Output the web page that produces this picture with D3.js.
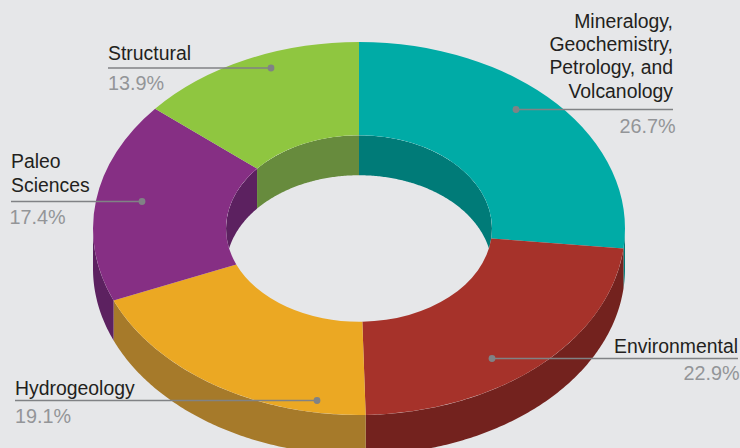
<!DOCTYPE html>
<html>
<head>
<meta charset="utf-8">
<script src="https://cdn.jsdelivr.net/npm/d3@7"></script>
<style>
  html, body { margin: 0; padding: 0; background: #e6e7e9; }
  svg { display: block; font-family: "Liberation Sans", Arial, sans-serif; }
</style>
</head>
<body>
<svg id="chart" width="740" height="448"></svg>
<script>
// Research fields and their share of the total, clockwise from twelve o'clock
const categories = ["Mineralogy, Geochemistry, Petrology, and Volcanology", "Environmental", "Hydrogeology", "Paleo Sciences", "Structural"];
const shares = [26.7, 22.9, 19.1, 17.4, 13.9];
const topColors = ["#00aba6", "#a6322a", "#eba823", "#862f84", "#8fc640"];
const wallColors = ["#007b78", "#73221e", "#a67a2a", "#5c2160", "#678b3d"];
const labelLines = [
  ["Mineralogy,", "Geochemistry,", "Petrology, and", "Volcanology"],
  ["Environmental"],
  ["Hydrogeology"],
  ["Paleo", "Sciences"],
  ["Structural"]
];

// Callout placement: dot, text edge, rule height and text baselines
const callouts = [
  { dot: 516, edge: 673, rule: 109.5, first: 27.5, step: 23.4, pct: 133, anchor: "end", pctEdge: 675.5 },
  { dot: 492, edge: 738, rule: 358.5, first: 353, step: 0, pct: 380, anchor: "end", pctEdge: 739.5 },
  { dot: 317, edge: 15, rule: 400.5, first: 395, step: 0, pct: 423, anchor: "start", pctEdge: 15 },
  { dot: 142, edge: 11, rule: 201.5, first: 168, step: 23.6, pct: 224, anchor: "start", pctEdge: 9.5 },
  { dot: 271, edge: 108, rule: 68, first: 60, step: 0, pct: 90, anchor: "start", pctEdge: 108 }
];

const width = 740, height = 448;
const cx = 359, cy = 228.5;
const outerRx = 266, innerRx = 133;
const tilt = 186.5 / 266;
const depth = 40;

// Unit circle coordinates projected on to the tilted disc
const px = d3.scaleLinear().domain([-1, 1]).range([cx - 1, cx + 1]);
const py = d3.scaleLinear().domain([-1, 1]).range([cy - tilt, cy + tilt]);
const ellipsePoint = (angle, r, drop) => [
  px(r * Math.sin(angle)),
  py(-r * Math.cos(angle)) + drop
];

const svg = d3.select("#chart");
svg.append("rect").attr("width", width).attr("height", height).attr("fill", "#e6e7e9");

const slices = d3.pie().sort(null).value(d => d)(shares);
const line = d3.line();

// A curved band of the disc's side between two angles
function bandPath(a0, a1, r) {
  const n = Math.max(2, Math.ceil((a1 - a0) * 90));
  const angles = d3.range(n + 1).map(i => a0 + (a1 - a0) * i / n);
  const upper = angles.map(a => ellipsePoint(a, r, 0));
  const lower = angles.slice().reverse().map(a => ellipsePoint(a, r, depth));
  return line(upper.concat(lower)) + "Z";
}

// The hole's opening limits what can be seen of the far inner wall
const defs = svg.append("defs");
defs.append("clipPath").attr("id", "hole")
  .append("ellipse")
  .attr("cx", cx).attr("cy", cy).attr("rx", innerRx).attr("ry", innerRx * tilt);

const TAU = Math.PI * 2;

// Outer side: the front half, from 90 to 270 degrees
const outerWalls = svg.append("g");
slices.forEach((s, i) => {
  const a0 = Math.max(s.startAngle, Math.PI / 2);
  const a1 = Math.min(s.endAngle, Math.PI * 1.5);
  if (a1 > a0) {
    outerWalls.append("path").attr("d", bandPath(a0, a1, outerRx)).attr("fill", wallColors[i]);
  }
});

// Inner side: the far half of the hole, from 270 degrees round through the top to 90
const innerWalls = svg.append("g").attr("clip-path", "url(#hole)");
slices.forEach((s, i) => {
  [[Math.PI * 1.5, TAU], [0, Math.PI / 2]].forEach(([lo, hi]) => {
    const a0 = Math.max(s.startAngle, lo);
    const a1 = Math.min(s.endAngle, hi);
    if (a1 > a0) {
      innerWalls.append("path").attr("d", bandPath(a0, a1, innerRx)).attr("fill", wallColors[i]);
    }
  });
});

// Top faces of the ring
const arc = d3.arc().innerRadius(innerRx).outerRadius(outerRx);
svg.append("g")
  .attr("transform", `translate(${cx},${cy}) scale(1,${tilt})`)
  .selectAll("path")
  .data(slices)
  .join("path")
  .attr("d", arc)
  .attr("fill", (d, i) => topColors[i]);

// Callouts: rule with end dot, category text above, share below
const labels = svg.append("g").selectAll("g").data(callouts).join("g");
labels.append("line")
  .attr("x1", d => d.dot).attr("x2", d => d.edge)
  .attr("y1", d => d.rule).attr("y2", d => d.rule)
  .attr("stroke", "#808285").attr("stroke-width", 1.4);
labels.append("circle")
  .attr("cx", d => d.dot).attr("cy", d => d.rule).attr("r", 3.4)
  .attr("fill", "#808285");
labels.each(function (d, i) {
  const g = d3.select(this);
  labelLines[i].forEach((text, j) => {
    g.append("text")
      .attr("x", d.edge)
      .attr("y", d.first + j * d.step)
      .attr("text-anchor", d.anchor)
      .attr("font-size", 19.4)
      .attr("fill", "#231f20")
      .text(text);
  });
  g.append("text")
    .attr("x", d.pctEdge)
    .attr("y", d.pct)
    .attr("text-anchor", d.anchor)
    .attr("font-size", 19.8)
    .attr("fill", "#939598")
    .text(d3.format(".1f")(shares[i]) + "%");
});
</script>
</body>
</html>
